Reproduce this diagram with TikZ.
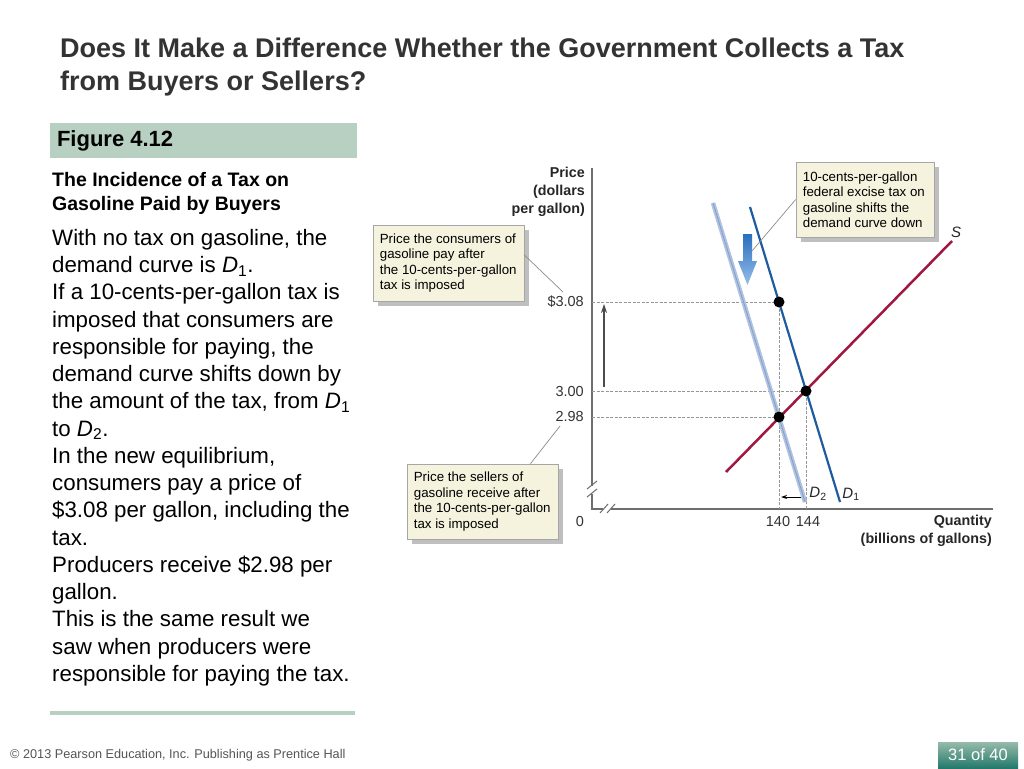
\documentclass[tikz,border=0pt]{standalone}
\usepackage{fontspec}
\setmainfont{Liberation Sans}
\usetikzlibrary{arrows.meta,shadows}
\definecolor{titlec}{RGB}{51,51,51}
\definecolor{sage}{RGB}{184,208,194}
\definecolor{cream}{RGB}{245,242,222}
\definecolor{dOne}{RGB}{30,92,160}
\definecolor{dTwo}{RGB}{175,195,224}
\definecolor{dTwoIn}{RGB}{130,158,200}
\definecolor{supc}{RGB}{160,24,64}
\definecolor{axisc}{RGB}{110,110,110}
\definecolor{dashc}{RGB}{150,150,150}
\definecolor{footc}{RGB}{85,85,85}
\tikzset{
  callbox/.style={draw=black!35, fill=cream, line width=0.7pt, inner sep=0pt,
    drop shadow={shadow xshift=5pt, shadow yshift=-5pt, fill=black!25, opacity=1}},
  calltext/.style={align=left, inner sep=0pt, anchor=west, font=\fontsize{13.3}{15.5}\selectfont},
  leader/.style={draw=black!45, line width=0.7pt},
  dot/.style={circle, fill=black, inner sep=0pt, minimum size=11pt},
  guide/.style={draw=dashc, line width=0.8pt, dash pattern=on 3pt off 1.5pt},
  tick/.style={inner sep=0pt, font=\fontsize{14.5}{16}\selectfont, text=black!80},
  axlabel/.style={inner sep=0pt, align=right, font=\bfseries\fontsize{14.3}{18}\selectfont, text=black!85},
  curvelabel/.style={inner sep=0pt, font=\fontsize{15}{17}\selectfont, text=black!85},
}
\begin{document}
\begin{tikzpicture}[x=1pt,y=-1pt]
\useasboundingbox (0,0) rectangle (1024,768);
\fill[white] (0,0) rectangle (1024,768);
% title
\node[anchor=north west, inner sep=0pt, align=left, text=titlec,
  font=\bfseries\fontsize{27}{33}\selectfont] (title) at (60,38)
  {Does It Make a Difference Whether the Government Collects a Tax\\from Buyers or Sellers?};
% figure label
\node[fill=sage, minimum width=307pt, minimum height=35pt, inner sep=0pt] (figbox) at (203.5,140.5) {};
\node[anchor=west, inner sep=0pt, font=\bfseries\fontsize{22}{24}\selectfont] (figtext) at ([xshift=7pt]figbox.west) {Figure 4.12};
\node[anchor=north west, inner sep=0pt, align=left, font=\bfseries\fontsize{19.5}{24}\selectfont] (subtitle) at (52,172)
  {The Incidence of a Tax on\\Gasoline Paid by Buyers};
\node[anchor=north west, inner sep=0pt, align=left, font=\fontsize{22.3}{27.25}\selectfont] (body) at (52,229)
  {With no tax on gasoline, the\\
   demand curve is \textit{D}\textsubscript{1}.\\
   If a 10-cents-per-gallon tax is\\
   imposed that consumers are\\
   responsible for paying, the\\
   demand curve shifts down by\\
   the amount of the tax, from \textit{D}\textsubscript{1}\\
   to \textit{D}\textsubscript{2}.\\
   In the new equilibrium,\\
   consumers pay a price of\\
   \$3.08 per gallon, including the\\
   tax.\\
   Producers receive \$2.98 per\\
   gallon.\\
   This is the same result we\\
   saw when producers were\\
   responsible for paying the tax.};
\draw[sage, line width=4pt] (50,712.5) coordinate (rulea) -- (355,712.5) coordinate (ruleb);
% footer
\node[anchor=west, inner sep=0pt, text=footc, font=\fontsize{12.7}{14}\selectfont] (foot) at (10,755) {\textcopyright{} 2013 Pearson Education, Inc. Publishing as Prentice Hall};
\node[minimum width=80pt, minimum height=26pt, inner sep=0pt, top color={rgb,255:red,150;green,186;blue,170}, bottom color={rgb,255:red,35;green,122;blue,108}] (pagebox) at (978,755) {};
\node[text=white, inner sep=0pt, font=\fontsize{16.5}{18}\selectfont] (pagetext) at (pagebox.center) {31 of 40};
% axes
\coordinate (O) at (592,509);
\coordinate (ytop) at (592,168);
\coordinate (xend) at (993,509);
\draw[axisc, line width=1.5pt] (ytop) -- (O) -- (xend);
% axis breaks
\fill[white] (589,486) rectangle (595,494);
\draw[axisc, line width=1pt] (587,489) -- (597,481) (587,497) -- (597,489);
\fill[white] (603,505) rectangle (611,513);
\draw[axisc, line width=1pt] (600,513) -- (608,504) (607,513) -- (615,504);
% axis labels
\node[axlabel, anchor=north east] (plabel) at (585,167) {Price\\(dollars\\per gallon)};
\node[axlabel, anchor=north east] (qlabel) at (992,515) {Quantity\\(billions of gallons)};
% equilibrium points
\coordinate (e1) at (779,302);
\coordinate (e0) at (806,391);
\coordinate (e2) at (779,417);
% guides
\draw[guide] (e1 -| O) -- (e1) -- (e1 |- O);
\draw[guide] (e0 -| O) -- (e0) -- (e0 |- O);
\draw[guide] (e2 -| O) -- (e2);
% tick labels
\node[tick, anchor=east] (t308) at (584,302) {\$3.08};
\node[tick, anchor=east] (t300) at (584,392) {3.00};
\node[tick, anchor=east] (t298) at (584,417) {2.98};
\node[tick] (t0) at (580,522) {0};
\node[tick] (t140) at (778,522) {140};
\node[tick] (t144) at (808,522) {144};
% curves
\coordinate (d2a) at (713,203);
\coordinate (d2b) at (805,502);
\draw[dTwo, line width=4.5pt] (d2a) -- (d2b);
\draw[dTwoIn, line width=0.8pt] (d2a) -- (d2b);
\coordinate (d1a) at (750,207);
\coordinate (d1b) at (840,502);
\draw[dOne, line width=2.2pt] (d1a) -- (d1b);
\coordinate (sa) at (726,472);
\coordinate (sb) at (952,241);
\draw[supc, line width=2.5pt] (sa) -- (sb);
\node[dot] (p1) at (e1) {};
\node[dot] (p0) at (e0) {};
\node[dot] (p2) at (e2) {};
% curve labels
\node[curvelabel] (lD2) at (818,494) {\textit{D}\textsubscript{2}};
\node[curvelabel] (lD1) at (851,494) {\textit{D}\textsubscript{1}};
\node[curvelabel] (lS) at (956,232) {\textit{S}};
% arrows
\coordinate (ha) at (801,497);
\coordinate (hb) at (781,497);
\draw[black, line width=1pt, -{Stealth[length=6pt,width=4pt]}] (ha) -- (hb);
\coordinate (va) at (604,387);
\coordinate (vb) at (604,304);
\draw[black!70, line width=1.3pt, -{Stealth[length=9pt,width=6pt]}] (va) -- (vb);
\shade[top color={rgb,255:red,40;green,110;blue,190}, bottom color={rgb,255:red,150;green,190;blue,232}]
  (743,234) -- (752,234) -- (752,261) -- (757,261) -- (747.5,285) -- (738,261) -- (743,261) -- cycle;
% callouts
\node[callbox, minimum width=138pt, minimum height=75pt] (b1) at (865,199.5) {};
\node[calltext] (b1t) at ([xshift=7pt]b1.west) {10-cents-per-gallon\\federal excise tax on\\gasoline shifts the\\demand curve down};
\node[callbox, minimum width=151pt, minimum height=76pt] (b2) at (448.5,263) {};
\node[calltext] (b2t) at ([xshift=7pt]b2.west) {Price the consumers of\\gasoline pay after\\the 10-cents-per-gallon\\tax is imposed};
\node[callbox, minimum width=151pt, minimum height=75pt] (b3) at (482.5,501.5) {};
\node[calltext] (b3t) at ([xshift=7pt]b3.west) {Price the sellers of\\gasoline receive after\\the 10-cents-per-gallon\\tax is imposed};
% leaders
\coordinate (l1) at (752,251);
\coordinate (l2) at (563,292);
\coordinate (l3) at (560,426);
\draw[leader] (b1.west) -- (l1);
\draw[leader] ([yshift=8pt]b2.east) -- (l2);
\draw[leader] ([xshift=48pt]b3.north) -- (l3);
\end{tikzpicture}
\end{document}
